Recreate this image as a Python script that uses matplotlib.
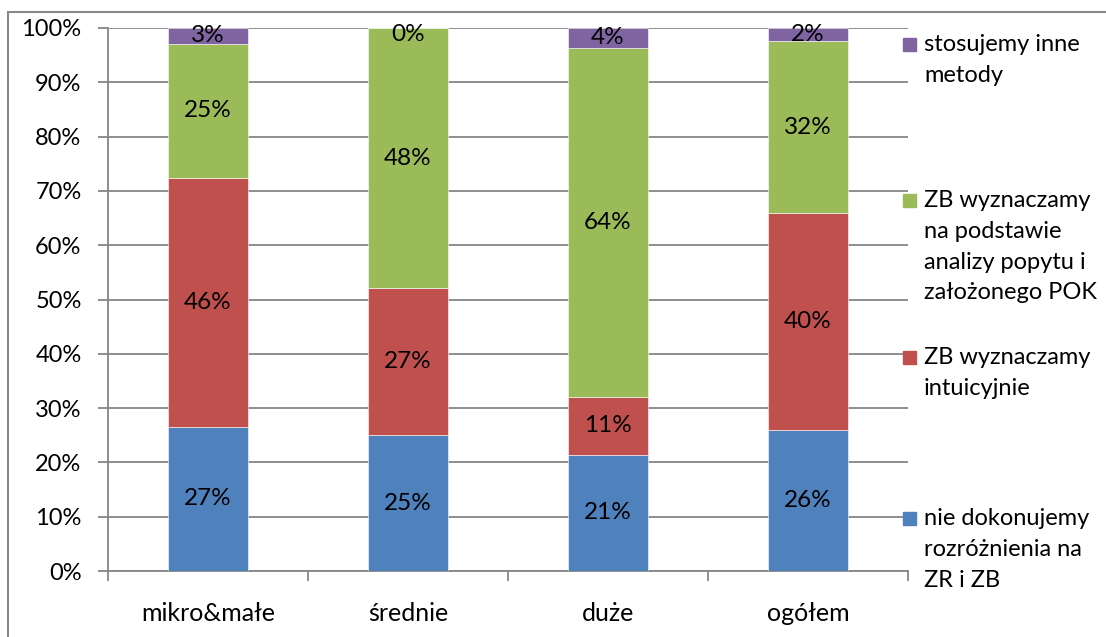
import numpy as np
import matplotlib.pyplot as plt
from matplotlib.patches import Rectangle

plt.rcParams['font.family'] = ['Lato', 'DejaVu Sans']

# data (percent shares)
categories = ['mikro&małe', 'średnie', 'duże', 'ogółem']
series = [['nie dokonujemy', 'rozróżnienia na', 'ZR i ZB'],
          ['ZB wyznaczamy', 'intuicyjnie'],
          ['ZB wyznaczamy', 'na podstawie', 'analizy popytu i', 'założonego POK'],
          ['stosujemy inne', 'metody']]
nie_dokonujemy = [26.6, 25.0, 21.4, 26.0]
intuicyjnie = [45.8, 27.1, 10.7, 39.9]
popyt_pok = [24.7, 47.9, 64.3, 31.7]
inne = [2.9, 0.0, 3.6, 2.4]
colors = ['#4F81BD', '#C0504D', '#9BBB59', '#8064A2']

values = [nie_dokonujemy, intuicyjnie, popyt_pok, inne]

W, H = 1106, 637
fig = plt.figure(figsize=(W / 100, H / 100), dpi=100)
ax = fig.add_axes([108 / W, 1 - 571 / H, 800 / W, 543 / H])

grey = '#868686'
x = np.arange(len(categories))
bottom = np.zeros(len(categories))
for vals, c in zip(values, colors):
    vals = np.array(vals)
    ax.bar(x, vals, 0.4, bottom=bottom, color=c, edgecolor='white',
           linewidth=0.4, zorder=3)
    for xi, b, v in zip(x, bottom, vals):
        # zero-height segments get their label just under the top, like Excel
        yl = b + v / 2 if v > 0 else b - 1.2
        ax.text(xi, yl, f'{v:.0f}%', ha='center', va='center',
                fontsize=17.5, color='black', zorder=4)
    bottom += vals

ax.set_xlim(-0.5, 3.5)
ax.set_ylim(0, 100)
ax.set_yticks(np.arange(0, 101, 10))
ax.set_yticklabels([f'{t}%' for t in range(0, 101, 10)], fontsize=17)
ax.yaxis.grid(True, color=grey, linewidth=1.3, zorder=0)
ax.set_xticks(x)
ax.set_xticklabels(categories, fontsize=18)
ax.set_xticks(np.arange(-0.5, 3.6, 1), minor=True)
ax.tick_params(axis='x', which='major', length=0, pad=22)
ax.tick_params(axis='x', which='minor', length=7, color=grey, width=1.3)
ax.tick_params(axis='y', length=7, color=grey, width=1.3, pad=12)
for s in ['top', 'right']:
    ax.spines[s].set_visible(False)
for s in ['left', 'bottom']:
    ax.spines[s].set_color(grey)
    ax.spines[s].set_linewidth(1.3)

# legend, laid out like the original
leg_y = [518, 357, 200, 44]
for lines, c, yy in zip(series, colors, leg_y):
    fig.patches.append(Rectangle((903 / W, 1 - (yy + 7) / H), 13 / W, 13 / H,
                                 transform=fig.transFigure, color=c))
    for i, line in enumerate(lines):
        fig.text(924 / W, 1 - (yy + i * 30.8 + 7) / H, line, ha='left',
                 va='baseline', fontsize=17)

# outer chart border
fig.patches.append(Rectangle((8 / W, -0.05), 1.1, 1 - 12 / H + 0.05,
                             transform=fig.transFigure, fill=False,
                             edgecolor='#898989', linewidth=1.5))

fig.savefig('out.png', dpi=100)
